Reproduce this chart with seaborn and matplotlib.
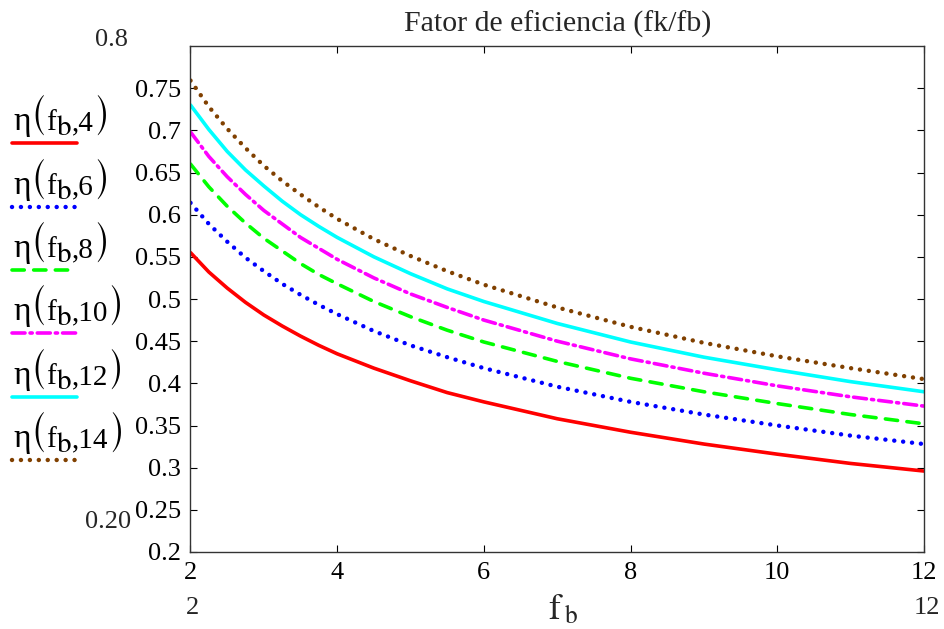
import numpy as np
import pandas as pd
import seaborn as sns
import matplotlib.pyplot as plt
from matplotlib.lines import Line2D
from matplotlib.offsetbox import TextArea, HPacker, AnchoredOffsetbox

# values (fb on x, one curve per second argument)
fb = [2, 2.25, 2.5, 2.75, 3, 3.25, 3.5, 3.75, 4, 4.5, 5, 5.5, 6, 7, 8, 9, 10, 11, 12]
eta_4 = [0.555, 0.532, 0.513, 0.496, 0.481, 0.468, 0.456, 0.445, 0.435, 0.418,
         0.403, 0.389, 0.378, 0.358, 0.342, 0.328, 0.316, 0.305, 0.296]
eta_6 = [0.614, 0.589, 0.568, 0.549, 0.533, 0.518, 0.505, 0.493, 0.482, 0.462,
         0.445, 0.431, 0.418, 0.396, 0.378, 0.363, 0.350, 0.338, 0.328]
eta_8 = [0.660, 0.633, 0.610, 0.590, 0.572, 0.557, 0.542, 0.529, 0.518, 0.497,
         0.479, 0.463, 0.449, 0.426, 0.406, 0.390, 0.376, 0.363, 0.352]
eta_10 = [0.698, 0.669, 0.645, 0.624, 0.605, 0.589, 0.573, 0.560, 0.547, 0.525,
          0.506, 0.490, 0.475, 0.450, 0.429, 0.412, 0.397, 0.384, 0.373]
eta_12 = [0.730, 0.701, 0.675, 0.653, 0.634, 0.616, 0.600, 0.586, 0.573, 0.550,
          0.530, 0.512, 0.497, 0.471, 0.449, 0.431, 0.416, 0.402, 0.390]
eta_14 = [0.759, 0.728, 0.702, 0.679, 0.658, 0.640, 0.624, 0.609, 0.595, 0.571,
          0.551, 0.533, 0.517, 0.490, 0.467, 0.448, 0.432, 0.418, 0.405]
second_arg = ['4', '6', '8', '10', '12', '14']
x_ticks = [2, 4, 6, 8, 10, 12]
y_ticks = [0.2, 0.25, 0.3, 0.35, 0.4, 0.45, 0.5, 0.55, 0.6, 0.65, 0.7, 0.75]

series = [eta_4, eta_6, eta_8, eta_10, eta_12, eta_14]
colors = ['#ff0000', '#0000ff', '#00ff00', '#ff00ff', '#00ffff', '#804000']
styles = [('-', 2.6), ((0, (0.01, 2.0)), 3.2), ((0, (3.4, 2.6)), 2.6),
          ((0, (3.6, 1.4, 0.6, 1.4)), 2.6), ('-', 2.6), ((0, (0.01, 2.0)), 3.2)]

sns.set_theme(style='white')
plt.rcParams['font.family'] = ['Liberation Serif', 'DejaVu Serif']
plt.rcParams['mathtext.fontset'] = 'stix'

fig = plt.figure(figsize=(9.45, 6.29), dpi=100)
ax = fig.add_axes([190.5 / 945, 77 / 629, 733.5 / 945, 506 / 629])

for vals, col, (ls, lw) in zip(series, colors, styles):
    df = pd.DataFrame({'fb': fb, 'eta': vals})
    sns.lineplot(data=df, x='fb', y='eta', ax=ax, color=col, linestyle=ls,
                 linewidth=lw, dash_capstyle='round')

ax.set_xlim(2, 12)
ax.set_ylim(0.2, 0.8)
ax.set_xticks(x_ticks)
ax.set_xticklabels([str(t) for t in x_ticks])
ax.set_yticks(y_ticks)
ax.set_yticklabels(['%g' % t for t in y_ticks])
ax.set_xlabel('')
ax.set_ylabel('')
ax.tick_params(direction='in', length=5, width=0.8, colors='black', labelsize=19,
               top=True, right=True, left=True, bottom=True)
ax.tick_params(axis='x', pad=7)
ax.tick_params(axis='y', pad=7)
for sp in ax.spines.values():
    sp.set_color('#333333')
    sp.set_linewidth(1.0)

ax.set_title('Fator de eficiencia (fk/fb)', fontsize=21.5, pad=10)

# limit labels in the Mathcad style
fig.text(128 / 945, 1 - 40 / 629, '0.8', fontsize=19, ha='right', va='center')
fig.text(131 / 945, 1 - 522 / 629, '0.20', fontsize=19, ha='right', va='center')
fig.text(193 / 945, 1 - 608 / 629, '2', fontsize=19, ha='center', va='center')
fig.text(927 / 945, 1 - 608 / 629, '12', fontsize=19, ha='center', va='center')
fig.text(563 / 945, 1 - 610 / 629, r'$\mathrm{f}\,_{\mathrm{b}}$', fontsize=26,
         ha='center', va='center')


def eta_label(arg):
    txt = dict(size=21, color='black')
    paren = dict(size=24, color='black', family='STIXSizeOneSym')
    parts = [TextArea('η', textprops=dict(size=24, color='black')),
             TextArea('(', textprops=paren),
             TextArea('f', textprops=txt),
             TextArea(r'${}_{\mathrm{b}}$', textprops=dict(size=30, color='black')),
             TextArea(',' + arg, textprops=txt),
             TextArea(')', textprops=paren)]
    return HPacker(children=parts, align='baseline', pad=0, sep=0)


# legend on the left: label above its line sample
sample_y = [143, 207, 270, 333, 397, 460]
for arg, col, (ls, lw), yy in zip(second_arg, colors, styles, sample_y):
    box = AnchoredOffsetbox(loc='center left', child=eta_label(arg), pad=0,
                            borderpad=0, frameon=False,
                            bbox_to_anchor=(13 / 945, 1 - (yy - 26) / 629),
                            bbox_transform=fig.transFigure)
    fig.add_artist(box)
    fig.add_artist(Line2D([12 / 945, 77 / 945], [1 - yy / 629, 1 - yy / 629],
                          transform=fig.transFigure, color=col, linestyle=ls,
                          linewidth=lw, dash_capstyle='round'))

fig.savefig('out.png', dpi=100)
